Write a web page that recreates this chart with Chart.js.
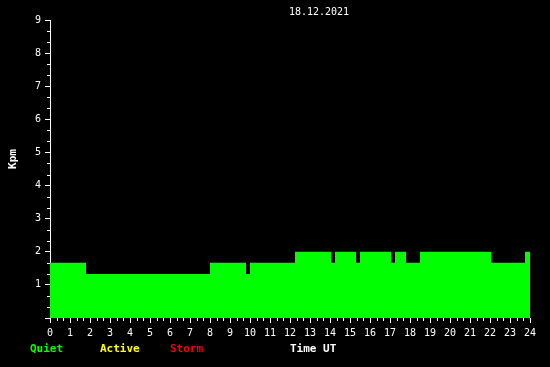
<!DOCTYPE html>
<html>
<head>
<meta charset="utf-8">
<script src="https://cdn.jsdelivr.net/npm/chart.js@4"></script>
<style>
    html, body { margin: 0; padding: 0; background: #000; }
</style>
</head>
<body>
<canvas id="kpChart" width="550" height="367"></canvas>
<script>
        // start hour of each step and its Kpm value (last point closes the final step)
        const stepStart = [0, 1.8, 8.0, 9.8, 10.0, 12.25, 14.05, 14.25, 15.3, 15.5, 17.05, 17.25, 17.8, 18.5, 22.05, 23.75, 24.05];
        const kpValues = [1.67, 1.33, 1.67, 1.33, 1.67, 2.0, 1.67, 2.0, 1.67, 2.0, 1.67, 2.0, 1.67, 2.0, 1.67, 2.0, 2.0];
        const dateLabel = "18.12.2021";
        const legendItems = [
            { text: "Quiet", color: "#00ff00" },
            { text: "Active", color: "#ffff00" },
            { text: "Storm", color: "#ff0000" },
            { text: "Time UT", color: "#ffffff" }
        ];

        const monoFont = "'DejaVu Sans Mono', 'Liberation Mono', monospace";

        // minor ticks at every third of a unit + the captions
        const extrasPlugin = {
            id: 'extras',
            afterDraw(chart) {
                const ctx = chart.ctx;
                const xs = chart.scales.x;
                const ys = chart.scales.y;
                const area = chart.chartArea;
                ctx.save();
                ctx.strokeStyle = '#fff';
                ctx.lineWidth = 1;
                ctx.beginPath();
                for (let k = 0; k <= 72; k++) {
                    if (k % 3 === 0) continue;
                    const px = Math.round(xs.getPixelForValue(k / 3)) + 0.5;
                    ctx.moveTo(px, area.bottom);
                    ctx.lineTo(px, area.bottom + 3);
                }
                for (let k = 0; k <= 27; k++) {
                    if (k % 3 === 0) continue;
                    const py = Math.round(ys.getPixelForValue(k / 3)) + 0.5;
                    ctx.moveTo(area.left - 3, py);
                    ctx.lineTo(area.left, py);
                }
                ctx.stroke();

                ctx.fillStyle = '#fff';
                ctx.font = '10px ' + monoFont;
                ctx.textAlign = 'center';
                ctx.textBaseline = 'middle';
                ctx.fillText(dateLabel, 319, 12);

                ctx.font = 'bold 11px ' + monoFont;
                ctx.save();
                ctx.translate(13, 159);
                ctx.rotate(-Math.PI / 2);
                ctx.fillText("Kpm", 0, 0);
                ctx.restore();

                const legendX = [30, 100, 170, 290];
                ctx.textAlign = 'left';
                legendItems.forEach((item, i) => {
                    ctx.fillStyle = item.color;
                    ctx.fillText(item.text, legendX[i], 349);
                });
                ctx.restore();
            }
        };

        const ctx = document.getElementById('kpChart').getContext('2d');
        new Chart(ctx, {
            type: 'line',
            data: {
                datasets: [{
                    label: 'Kpm',
                    data: stepStart.map((h, i) => ({ x: h, y: kpValues[i] })),
                    stepped: true,
                    fill: 'origin',
                    backgroundColor: '#00ff00',
                    borderColor: 'rgba(0,0,0,0)',
                    borderWidth: 0,
                    pointRadius: 0,
                    clip: { left: 0, right: 2, top: 0, bottom: 0 }
                }]
            },
            options: {
                responsive: false,
                animation: false,
                layout: { padding: { top: 20, right: 20, left: 0, bottom: 0 } },
                plugins: { legend: { display: false }, tooltip: { enabled: false } },
                scales: {
                    x: {
                        type: 'linear',
                        min: 0,
                        max: 24,
                        afterFit: (scale) => { scale.height = 49; },
                        ticks: {
                            stepSize: 1,
                            autoSkip: false,
                            maxRotation: 0,
                            color: '#fff',
                            padding: 4,
                            font: { family: monoFont, size: 10 }
                        },
                        grid: { drawOnChartArea: false, color: '#fff', tickLength: 5 },
                        border: { display: false }
                    },
                    y: {
                        min: 0,
                        max: 9,
                        afterFit: (scale) => { scale.width = 50; },
                        ticks: {
                            stepSize: 1,
                            color: '#fff',
                            padding: 4,
                            font: { family: monoFont, size: 10 },
                            callback: (v) => v === 0 ? '' : v
                        },
                        grid: { drawOnChartArea: false, color: '#fff', tickLength: 5 },
                        border: { display: true, color: '#fff', width: 1 }
                    }
                }
            },
            plugins: [extrasPlugin]
        });
</script>
</body>
</html>
